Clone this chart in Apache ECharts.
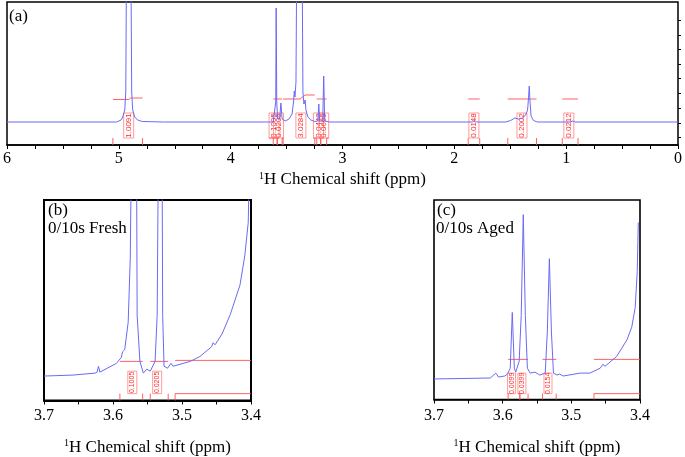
<!DOCTYPE html>
<html><head><meta charset="utf-8">
<script src="https://cdn.jsdelivr.net/npm/echarts@6/dist/echarts.min.js"></script>
<style>html,body{margin:0;padding:0;background:#fff}#c{width:685px;height:457px}</style>
</head><body><div id="c"></div>
<script>
// ---------- Panel (a): full 1H spectrum [ppm, intensity] ----------
const specA = [
  [6.0,0],[5.02,0],[4.98,2],[4.965,5],[4.947,12],[4.938,30],[4.929,200],[4.894,200],[4.885,30],[4.876,12],[4.858,5],[4.832,2],[4.79,0.5],[4.6,0],
  [3.62,0],[3.606,2],[3.597,20],[3.593,114],[3.588,20],[3.580,3],[3.562,3],[3.551,19],[3.540,3],
  [3.513,1],[3.478,3],[3.451,8],[3.438,20],[3.431,31],[3.425,25],[3.416,40],[3.407,200],[3.363,200],[3.354,30],[3.345,18],[3.334,22],[3.327,12],[3.310,5],[3.283,2],[3.248,0.5],
  [3.221,1],[3.212,18],[3.204,1],[3.177,1],[3.168,46],[3.159,1],[3.142,0.5],[3.115,0],
  [1.84,0],[1.82,1.5],[1.80,0],[1.54,0],[1.496,1.5],[1.460,4],[1.425,3],[1.389,4],[1.363,7],[1.345,12],[1.336,25],[1.330,36],[1.323,20],[1.314,6],[1.292,1.5],[1.257,0],
  [0.96,0],[0.94,1],[0.92,0],[0,0]
];
// integrals (a): [from, to, level]
const intA = [[3.619,3.584,23],[3.584,3.540,23],[3.531,3.248,23],[3.230,3.195,23],[3.195,3.142,23],[1.876,1.773,23],[1.522,1.265,23],[1.035,0.894,23],[5.053,4.788,22.5]];
const intA_labels = ['0.1005','0.0205','3.0284','0.0443','0.0669','0.0148','0.2002','0.0212','1.0091'];
const intA_labelAt = [3.612,3.572,3.372,3.215,3.168,1.825,1.395,0.976,4.912];
const intA_rise = [0,0,4,0,0,0,0,0,1.5];
const intA_stepA = [0,0,3.38,0,0,0,0,0,4.91];
const intA_stepB = [0,0,3.335,0,0,0,0,0,4.895];
const ticksA_right = [-15,-1,14,29,44,58,73,87,102];

// ---------- Panel (b): 0/10s Fresh ----------
const specB = [
  [3.700,0],[3.658,1],[3.626,3],[3.623,4],[3.621,10],[3.619,4],[3.595,13],[3.588,19],[3.586,25],[3.583,27],[3.578,55],[3.575,120],[3.573,250],[3.566,250],[3.565,62],[3.561,15],[3.556,3],
  [3.551,7],[3.546,5],[3.539,15],[3.536,62],[3.534,250],[3.529,250],[3.528,62],[3.526,10],[3.521,8],[3.516,13],[3.513,10],
  [3.488,15],[3.474,20],[3.457,30],[3.455,34],[3.452,32],[3.442,43],[3.430,63],[3.416,93],[3.409,123],[3.404,157],[3.4015,250]
];
const intB = [[3.590,3.557,15],[3.546,3.520,15],[3.510,3.400,16]];
const intB_labels = ['0.1005','0.0205',''];
const intB_labelAt = [3.572,3.536,0];

// ---------- Panel (c): 0/10s Aged ----------
const specC = [
  [3.700,0],[3.618,1],[3.610,6],[3.606,2],[3.597,3],[3.593,5],[3.589,11],[3.586,68],[3.583,11],[3.581,7],
  [3.576,18],[3.573,65],[3.570,168],[3.567,65],[3.564,11],[3.560,6],[3.553,7],[3.546,4],[3.538,6],
  [3.535,48],[3.532,123],[3.529,48],[3.526,6],[3.521,4],[3.517,5],[3.512,3],
  [3.487,6],[3.473,6],[3.458,11],[3.454,15],[3.451,13],[3.434,23],[3.419,40],[3.412,53],[3.407,73],[3.404,110],[3.4025,160]
];
const intC = [[3.592,3.575,20],[3.575,3.563,20],[3.542,3.522,20],[3.467,3.400,20]];
const intC_labels = ['0.0099','0.0399','0.0154',''];
const intC_labelAt = [3.587,3.572,3.534,0];

const SERIF = '"Liberation Serif", "Times New Roman", serif';
const BLUE = '#6a6af7';
const RED = '#ff5050';

function seg(p, q) {
  return { type: 'line', shape: { x1: p[0], y1: p[1], x2: q[0], y2: q[1] }, style: { stroke: RED, lineWidth: 0.9, fill: 'none' } };
}

function integralRenderer(labels, labelAt, rise, stepA, stepB, cfg) {
  return function (params, api) {
    const i = params.dataIndex;
    const from = api.value(0), to = api.value(1), lvl = api.value(2);
    const ch = [];
    if (rise && rise[i]) {
      const p = [api.coord([from, lvl]), api.coord([stepA[i], lvl]), api.coord([stepB[i], lvl + rise[i]]), api.coord([to, lvl + rise[i]])];
      ch.push(seg(p[0], p[1]), seg(p[1], p[2]), seg(p[2], p[3]));
    } else {
      ch.push(seg(api.coord([from, lvl]), api.coord([to, lvl])));
    }
    const pF0 = api.coord([from, cfg.yMin]), pF1 = api.coord([from, cfg.brLvl]);
    const pT0 = api.coord([to, cfg.yMin]), pT1 = api.coord([to, cfg.brLvl]);
    if (labels[i]) {
      const c = api.coord([labelAt[i], cfg.boxTop]);
      const cb = api.coord([labelAt[i], cfg.boxBot]);
      const x0 = c[0] - cfg.boxW / 2, x1 = c[0] + cfg.boxW / 2;
      ch.push({ type: 'rect', shape: { x: x0, y: c[1], width: cfg.boxW, height: cb[1] - c[1] }, style: { stroke: '#ff9090', fill: 'none', lineWidth: 0.9 } });
      ch.push(seg(pF0, pF1), seg(pF1, [Math.min(x0, pF1[0]), pF1[1]]));
      ch.push(seg([Math.max(x1, pT1[0]), pT1[1]], pT1), seg(pT1, pT0));
      ch.push({ type: 'text', x: c[0], y: (c[1] + cb[1]) / 2, rotation: Math.PI / 2,
        style: { text: labels[i], fill: '#ff2a2a', font: cfg.font, align: 'center', verticalAlign: 'middle', textAlign: 'center', textVerticalAlign: 'middle' } });
    } else {
      ch.push(seg(pF0, pF1), seg(pF1, pT1));
    }
    return { type: 'group', children: ch };
  };
}

function xName() {
  return {
    name: '{s|1}{n|H Chemical shift (ppm)}',
    nameLocation: 'middle',
    nameTextStyle: { rich: {
      s: { fontSize: 10, fontFamily: SERIF, color: '#000', verticalAlign: 'top', lineHeight: 18, padding: [0, 0, 6, 0] },
      n: { fontSize: 17, fontFamily: SERIF, color: '#000', lineHeight: 18 }
    } }
  };
}

const chart = echarts.init(document.getElementById('c'), null, { renderer: 'canvas' });
const option = {
  animation: false,
  backgroundColor: '#fff',
  grid: [
    { left: 3, top: 2, width: 678, height: 143, show: true, borderColor: '#000', borderWidth: 1.5, backgroundColor: 'transparent' },
    { left: 44, top: 200, width: 207, height: 205, show: true, borderColor: '#000', borderWidth: 2, backgroundColor: 'transparent' },
    { left: 434, top: 200, width: 206, height: 204, show: true, borderColor: '#000', borderWidth: 1.6, backgroundColor: 'transparent' }
  ],
  xAxis: [
    Object.assign(xName(), { gridIndex: 0, type: 'value', min: 0, max: 6, interval: 1, inverse: true, nameGap: 26, position: 'bottom',
      axisLine: { show: true, onZero: false, lineStyle: { color: '#000', width: 1.5 } },
      axisTick: { show: true, inside: false, length: 4, lineStyle: { color: '#000' } },
      minorTick: { show: true, splitNumber: 4, length: 4, lineStyle: { color: '#000' } },
      axisLabel: { fontFamily: SERIF, fontSize: 16, color: '#000', margin: 6 },
      splitLine: { show: false } }),
    Object.assign(xName(), { gridIndex: 1, type: 'value', min: 3.4, max: 3.7, interval: 0.1, inverse: true, nameGap: 38, position: 'bottom',
      axisLine: { show: true, onZero: false, lineStyle: { color: '#000', width: 2 } },
      axisTick: { show: true, inside: false, length: 4, lineStyle: { color: '#000' } },
      minorTick: { show: true, splitNumber: 2, length: 4, lineStyle: { color: '#000' } },
      axisLabel: { fontFamily: SERIF, fontSize: 16, color: '#000', margin: 7, formatter: v => v.toFixed(1) },
      splitLine: { show: false } }),
    Object.assign(xName(), { gridIndex: 2, type: 'value', min: 3.4, max: 3.7, interval: 0.1, inverse: true, nameGap: 39, position: 'bottom',
      axisLine: { show: true, onZero: false, lineStyle: { color: '#000', width: 1.6 } },
      axisTick: { show: true, inside: false, length: 4, lineStyle: { color: '#000' } },
      minorTick: { show: true, splitNumber: 2, length: 4, lineStyle: { color: '#000' } },
      axisLabel: { fontFamily: SERIF, fontSize: 16, color: '#000', margin: 8, formatter: v => v.toFixed(1) },
      splitLine: { show: false } })
  ],
  yAxis: [
    { gridIndex: 0, type: 'value', min: -23, max: 120, position: 'right',
      axisLine: { show: false, onZero: false },
      axisTick: { show: true, inside: false, length: 3, customValues: ticksA_right, lineStyle: { color: '#000' } },
      axisLabel: { show: false }, splitLine: { show: false } },
    { gridIndex: 1, type: 'value', min: -25, max: 180, show: false, axisLine: { onZero: false } },
    { gridIndex: 2, type: 'value', min: -21, max: 183, show: false, axisLine: { onZero: false } }
  ],
  series: [
    { type: 'custom', xAxisIndex: 0, yAxisIndex: 0, data: intA, encode: { x: [0, 1], y: 2 }, silent: true,
      renderItem: integralRenderer(intA_labels, intA_labelAt, intA_rise, intA_stepA, intA_stepB,
        { boxW: 10, boxTop: 9, boxBot: -16, brLvl: -16, yMin: -23, font: '8px "Liberation Sans", Arial, sans-serif' }) },
    { type: 'custom', xAxisIndex: 1, yAxisIndex: 1, data: intB, encode: { x: [0, 1], y: 2 }, silent: true,
      renderItem: integralRenderer(intB_labels, intB_labelAt, null, null, null,
        { boxW: 9, boxTop: 5, boxBot: -18, brLvl: -18, yMin: -25, font: '7px "Liberation Sans", Arial, sans-serif' }) },
    { type: 'custom', xAxisIndex: 2, yAxisIndex: 2, data: intC, encode: { x: [0, 1], y: 2 }, silent: true,
      renderItem: integralRenderer(intC_labels, intC_labelAt, null, null, null,
        { boxW: 8, boxTop: 6, boxBot: -15, brLvl: -15, yMin: -21, font: '7px "Liberation Sans", Arial, sans-serif' }) },
    { type: 'line', xAxisIndex: 0, yAxisIndex: 0, data: specA, showSymbol: false, clip: true, lineStyle: { color: BLUE, width: 1 }, silent: true },
    { type: 'line', xAxisIndex: 1, yAxisIndex: 1, data: specB, showSymbol: false, clip: true, lineStyle: { color: BLUE, width: 1 }, silent: true },
    { type: 'line', xAxisIndex: 2, yAxisIndex: 2, data: specC, showSymbol: false, clip: true, lineStyle: { color: BLUE, width: 1 }, silent: true }
  ],
  graphic: [
    { type: 'text', left: 9, top: 8, style: { text: '(a)', font: '17px ' + SERIF, fill: '#000' } },
    { type: 'text', left: 48, top: 202, style: { text: '(b)', font: '17px ' + SERIF, fill: '#000' } },
    { type: 'text', left: 48, top: 220, style: { text: '0/10s Fresh', font: '17px ' + SERIF, fill: '#000' } },
    { type: 'text', left: 437, top: 202, style: { text: '(c)', font: '17px ' + SERIF, fill: '#000' } },
    { type: 'text', left: 436, top: 220, style: { text: '0/10s Aged', font: '17px ' + SERIF, fill: '#000' } }
  ]
};
chart.setOption(option);
</script>
</body></html>
